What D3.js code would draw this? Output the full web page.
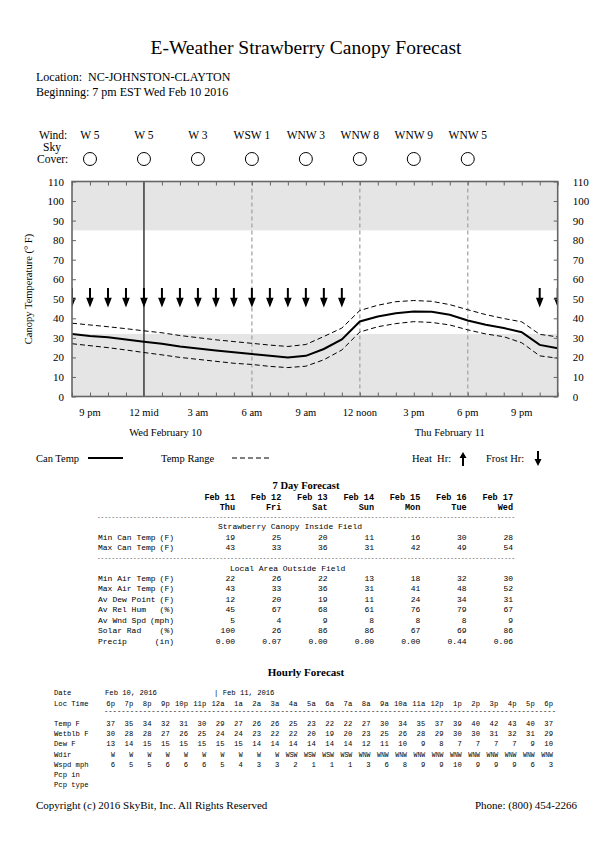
<!DOCTYPE html>
<html>
<head>
<meta charset="utf-8">
<script src="https://cdn.jsdelivr.net/npm/d3@7"></script>
<style>
  body { margin: 0; background: #fff; }
  text { fill: #000; }
  .serif { font-family: "Liberation Serif", "Times New Roman", serif; }
  .mono { font-family: "Liberation Mono", "Courier New", monospace; }
</style>
</head>
<body>
<svg id="chart" width="612" height="864"></svg>
<script>
// ---- data ----
const startHour = new Date(2016, 1, 10, 20);   // 8 pm Wed Feb 10
const endHour = new Date(2016, 1, 11, 23);     // 11 pm Thu Feb 11

// hourly canopy temperature, 8 pm Feb 10 .. 11 pm Feb 11
const canTemp = [32, 31, 30.3, 29.2, 28, 27, 25.6, 24.5, 23.5, 22.6, 21.7, 20.8, 20, 20.8,
                 24.3, 29.2, 38.4, 40.9, 42.6, 43.5, 43.3, 41.8, 38.9, 36.7, 35, 32.9, 26.4, 24.7];
const rangeHigh = [37.5, 36.6, 35.7, 34.7, 33.6, 32.6, 31.2, 30.1, 29, 28.1, 27.2, 26.3, 25.6, 26.6,
                   30.7, 35, 44, 46.7, 48.5, 49.1, 48.7, 47, 44.4, 41.9, 39.9, 38.2, 31.8, 30.5];
const rangeLow = [27, 26, 25, 23.8, 22.5, 21.3, 20, 19, 18, 17, 16.4, 15.4, 14.8, 15.5,
                  18.8, 23.8, 33, 35.7, 37.3, 38.3, 37.9, 36.6, 34.1, 32, 30.6, 27.5, 20.8, 19.6];
const frostHourIdx = [0, 1, 2, 3, 4, 5, 6, 7, 8, 9, 10, 11, 12, 13, 14, 15, 26, 27];

const yTicks = [0, 10, 20, 30, 40, 50, 60, 70, 80, 90, 100, 110];
const bands = [[85, 110], [0, 32]];
const xLabels = ["9 pm", "12 mid", "3 am", "6 am", "9 am", "12 noon", "3 pm", "6 pm", "9 pm"];
const xLabelHours = [1, 4, 7, 10, 13, 16, 19, 22, 25];
const guideHours = [4, 10, 16, 22];              // midnight, 6 am, noon, 6 pm
const dayLabels = ["Wed February 10", "Thu February 11"];
const dayLabelHours = [5.2, 21];

const windHours = [1, 4, 7, 10, 13, 16, 19, 22];
const windText = ["W 5", "W 5", "W 3", "WSW 1", "WNW 3", "WNW 8", "WNW 9", "WNW 5"];

const dayDates = ["Feb 11", "Feb 12", "Feb 13", "Feb 14", "Feb 15", "Feb 16", "Feb 17"];
const dayNames = ["Thu", "Fri", "Sat", "Sun", "Mon", "Tue", "Wed"];
const canopyRows = [
  ["Min Can Temp", "(F)", [19, 25, 20, 11, 16, 30, 28]],
  ["Max Can Temp", "(F)", [43, 33, 36, 31, 42, 49, 54]]
];
const areaRows = [
  ["Min Air Temp", "(F)", [22, 26, 22, 13, 18, 32, 30]],
  ["Max Air Temp", "(F)", [43, 33, 36, 31, 41, 48, 52]],
  ["Av Dew Point", "(F)", [12, 20, 19, 11, 24, 34, 31]],
  ["Av Rel Hum", "(%)", [45, 67, 68, 61, 76, 79, 67]],
  ["Av Wnd Spd", "(mph)", [5, 4, 9, 8, 8, 8, 9]],
  ["Solar Rad", "(%)", [100, 26, 86, 86, 67, 69, 86]],
  ["Precip", "(in)", ["0.00", "0.07", "0.00", "0.00", "0.00", "0.44", "0.06"]]
];

const hourCols = ["6p", "7p", "8p", "9p", "10p", "11p", "12a", "1a", "2a", "3a", "4a", "5a", "6a",
                  "7a", "8a", "9a", "10a", "11a", "12p", "1p", "2p", "3p", "4p", "5p", "6p"];
const hourlyTemp = [37, 35, 34, 32, 31, 30, 29, 27, 26, 26, 25, 23, 22, 22, 27, 30, 34, 35, 37, 39, 40, 42, 43, 40, 37];
const hourlyWetblb = [30, 28, 28, 27, 26, 25, 24, 24, 23, 22, 22, 20, 19, 20, 23, 25, 26, 28, 29, 30, 30, 31, 32, 31, 29];
const hourlyDew = [13, 14, 15, 15, 15, 15, 15, 15, 14, 14, 14, 14, 14, 14, 12, 11, 10, 9, 8, 7, 7, 7, 7, 9, 10];
const hourlyWdir = ["W", "W", "W", "W", "W", "W", "W", "W", "W", "W", "WSW", "WSW", "WSW", "WSW", "WNW", "WNW",
                    "WNW", "WNW", "WNW", "WNW", "WNW", "WNW", "WNW", "WNW", "WNW"];
const hourlyWspd = [6, 5, 5, 6, 6, 6, 5, 4, 3, 3, 2, 1, 1, 1, 3, 6, 8, 9, 9, 10, 9, 9, 9, 6, 3];

// ---- layout ----
const svg = d3.select("#chart");
const plot = { left: 72, right: 557.7, top: 181.5, bottom: 396.5 };
const hourAt = i => d3.timeHour.offset(startHour, i);
const x = d3.scaleTime().domain([startHour, endHour]).range([plot.left, plot.right]);
const xh = i => x(new Date(+startHour + i * 3600e3));
const y = d3.scaleLinear().domain([0, 110]).range([plot.bottom, plot.top]);

// header
svg.append("text").attr("class", "serif").attr("x", 306).attr("y", 54)
  .attr("text-anchor", "middle").attr("font-size", 19.5).text("E-Weather Strawberry Canopy Forecast");
svg.append("text").attr("class", "serif").attr("x", 36).attr("y", 81).attr("font-size", 12)
  .attr("xml:space", "preserve").text("Location:  NC-JOHNSTON-CLAYTON");
svg.append("text").attr("class", "serif").attr("x", 36).attr("y", 96).attr("font-size", 12)
  .text("Beginning: 7 pm EST Wed Feb 10 2016");

// wind / sky cover
svg.append("text").attr("class", "serif").attr("x", 39).attr("y", 139).attr("font-size", 11.5).text("Wind:");
svg.append("text").attr("class", "serif").attr("x", 43).attr("y", 151).attr("font-size", 11.5).text("Sky");
svg.append("text").attr("class", "serif").attr("x", 37).attr("y", 163).attr("font-size", 11.5).text("Cover:");
svg.selectAll(".wind").data(windHours).join("text").attr("class", "serif wind")
  .attr("x", d => xh(d)).attr("y", 139).attr("text-anchor", "middle").attr("font-size", 11.5)
  .text((d, i) => windText[i]);
svg.selectAll(".sky").data(windHours).join("circle").attr("class", "sky")
  .attr("cx", d => xh(d)).attr("cy", 159).attr("r", 6.5)
  .attr("fill", "none").attr("stroke", "#000").attr("stroke-width", 1);

// plot background bands
svg.append("clipPath").attr("id", "clip").append("rect")
  .attr("x", plot.left).attr("y", plot.top)
  .attr("width", plot.right - plot.left).attr("height", plot.bottom - plot.top);
const g = svg.append("g").attr("clip-path", "url(#clip)");
g.selectAll(".band").data(bands).join("rect")
  .attr("x", plot.left).attr("width", plot.right - plot.left)
  .attr("y", d => y(d[1])).attr("height", d => y(d[0]) - y(d[1]))
  .attr("fill", "#e5e5e5");

// vertical guides
g.selectAll(".guide").data(guideHours).join("line")
  .attr("x1", d => xh(d)).attr("x2", d => xh(d)).attr("y1", plot.top).attr("y2", plot.bottom)
  .attr("stroke", (d, i) => i === 0 ? "#444" : "#aaa")
  .attr("stroke-width", (d, i) => i === 0 ? 1.6 : 1.4)
  .attr("stroke-dasharray", (d, i) => i === 0 ? null : "4,3");

// frost arrows
const arrow = (cx) => {
  const top = y(55.5), neck = y(50.5), tip = y(45.5);
  return `M${cx - 1},${top}L${cx + 1},${top}L${cx + 1},${neck}L${cx + 3.8},${neck}L${cx},${tip}L${cx - 3.8},${neck}L${cx - 1},${neck}Z`;
};
g.selectAll(".frost").data(frostHourIdx).join("path")
  .attr("d", d => arrow(xh(d))).attr("fill", "#000");

// lines
const line = d3.line().x((d, i) => x(hourAt(i))).y(d => y(d));
g.append("path").datum(rangeHigh).attr("d", line)
  .attr("fill", "none").attr("stroke", "#000").attr("stroke-width", 1).attr("stroke-dasharray", "5,3");
g.append("path").datum(rangeLow).attr("d", line)
  .attr("fill", "none").attr("stroke", "#000").attr("stroke-width", 1).attr("stroke-dasharray", "5,3");
g.append("path").datum(canTemp).attr("d", line)
  .attr("fill", "none").attr("stroke", "#000").attr("stroke-width", 2);

// axes (ticks pointing inward)
const hourTicks = d3.timeHour.range(startHour, d3.timeHour.offset(endHour, 1));
svg.append("g").attr("transform", `translate(0,${plot.top})`)
  .call(d3.axisTop(x).tickValues(hourTicks).tickSize(-4).tickFormat(""))
  .call(a => a.select(".domain").remove())
  .selectAll("line").attr("stroke", "#666");
svg.append("g").attr("transform", `translate(0,${plot.bottom})`)
  .call(d3.axisBottom(x).tickValues(hourTicks).tickSize(-4).tickFormat(""))
  .call(a => a.select(".domain").remove())
  .selectAll("line").attr("stroke", "#666");
const yl = svg.append("g").attr("transform", `translate(${plot.left},0)`)
  .call(d3.axisLeft(y).tickValues(yTicks).tickSize(-4).tickPadding(8));
const yr = svg.append("g").attr("transform", `translate(${plot.right},0)`)
  .call(d3.axisRight(y).tickValues(yTicks).tickSize(-4).tickPadding(15));
[yl, yr].forEach(a => {
  a.select(".domain").remove();
  a.selectAll("line").attr("stroke", "#666");
  a.selectAll("text").attr("font-family", "Liberation Serif, serif").attr("font-size", 11).attr("fill", "#000");
});
svg.append("rect").attr("x", plot.left).attr("y", plot.top)
  .attr("width", plot.right - plot.left).attr("height", plot.bottom - plot.top)
  .attr("fill", "none").attr("stroke", "#666").attr("stroke-width", 1.6);

svg.append("text").attr("class", "serif").attr("font-size", 10.5)
  .attr("transform", `translate(32,${(plot.top + plot.bottom) / 2}) rotate(-90)`)
  .attr("text-anchor", "middle").text("Canopy Temperature (\u00b0 F)");

svg.selectAll(".xl").data(xLabelHours).join("text").attr("class", "serif xl")
  .attr("x", d => xh(d)).attr("y", 416).attr("text-anchor", "middle").attr("font-size", 10.5)
  .text((d, i) => xLabels[i]);
svg.selectAll(".dl").data(dayLabelHours).join("text").attr("class", "serif dl")
  .attr("x", d => xh(d)).attr("y", 436).attr("text-anchor", "middle").attr("font-size", 10.5)
  .text((d, i) => dayLabels[i]);

// legend
const lgY = 458;
svg.append("text").attr("class", "serif").attr("x", 36).attr("y", lgY + 4).attr("font-size", 10.5).text("Can Temp");
svg.append("line").attr("x1", 88).attr("x2", 123).attr("y1", lgY).attr("y2", lgY).attr("stroke", "#000").attr("stroke-width", 2);
svg.append("text").attr("class", "serif").attr("x", 161).attr("y", lgY + 4).attr("font-size", 10.5).text("Temp Range");
svg.append("line").attr("x1", 232).attr("x2", 271).attr("y1", lgY).attr("y2", lgY).attr("stroke", "#000").attr("stroke-dasharray", "5,3");
svg.append("text").attr("class", "serif").attr("x", 412).attr("y", lgY + 4).attr("font-size", 10.5)
  .attr("xml:space", "preserve").text("Heat  Hr:");
svg.append("path").attr("d", "M463,452L466.5,458L464,458L464,466L462,466L462,458L459.5,458Z").attr("fill", "#000");
svg.append("text").attr("class", "serif").attr("x", 486).attr("y", lgY + 4).attr("font-size", 10.5).text("Frost Hr:");
svg.append("path").attr("d", "M537,451L539,451L539,459L541.5,459L538,466L534.5,459L537,459Z").attr("fill", "#000");

// ---- 7 day forecast table ----
svg.append("text").attr("class", "serif").attr("x", 306).attr("y", 489).attr("text-anchor", "middle")
  .attr("font-size", 10.5).attr("font-weight", "bold").text("7 Day Forecast");
const colX = d3.scaleLinear().domain([0, 6]).range([235, 513]);
svg.selectAll(".dd").data(dayDates).join("text").attr("class", "mono dd")
  .attr("x", (d, i) => colX(i)).attr("y", 499.5).attr("text-anchor", "end")
  .attr("font-size", 8.5).attr("font-weight", "bold").text(d => d);
svg.selectAll(".dn").data(dayNames).join("text").attr("class", "mono dn")
  .attr("x", (d, i) => colX(i)).attr("y", 510.3).attr("text-anchor", "end")
  .attr("font-size", 8.5).attr("font-weight", "bold").text(d => d);
const dashes = (x0, x1, yy, fs) => svg.append("text").attr("class", "mono").attr("x", x0).attr("y", yy)
  .attr("font-size", fs).attr("textLength", x1 - x0).attr("lengthAdjust", "spacing")
  .text("-".repeat(Math.round((x1 - x0) / (fs * 0.6))));
dashes(97, 515, 518.5, 6);
svg.append("text").attr("class", "mono").attr("x", 218).attr("y", 529).attr("font-size", 8).text("Strawberry Canopy Inside Field");
dashes(97, 515, 559.5, 6);
svg.append("text").attr("class", "mono").attr("x", 230).attr("y", 570.5).attr("font-size", 8).text("Local Area Outside Field");

const drawRows = (rows, y0) => {
  rows.forEach((r, k) => {
    const yy = y0 + k * 10.45;
    svg.append("text").attr("class", "mono").attr("x", 98).attr("y", yy).attr("font-size", 8).text(r[0]);
    svg.append("text").attr("class", "mono").attr("x", 174).attr("y", yy).attr("font-size", 8)
      .attr("text-anchor", "end").text(r[1]);
    svg.selectAll(null).data(r[2]).join("text").attr("class", "mono")
      .attr("x", (d, i) => colX(i)).attr("y", yy).attr("font-size", 8).attr("text-anchor", "end").text(d => d);
  });
};
drawRows(canopyRows, 539.5);
drawRows(areaRows, 581);

// ---- hourly forecast table ----
svg.append("text").attr("class", "serif").attr("x", 306).attr("y", 676).attr("text-anchor", "middle")
  .attr("font-size", 11).attr("font-weight", "bold").text("Hourly Forecast");
const hx = d3.scaleLinear().domain([0, hourCols.length - 1]).range([115, 553]);
const hfs = 7.2;
const hLabel = (t, yy) => svg.append("text").attr("class", "mono").attr("x", 54).attr("y", yy).attr("font-size", hfs).text(t);
hLabel("Date", 695);
svg.append("text").attr("class", "mono").attr("x", 105).attr("y", 695).attr("font-size", hfs).text("Feb 10, 2016");
svg.append("text").attr("class", "mono").attr("x", 214).attr("y", 695).attr("font-size", hfs).text("| Feb 11, 2016");
hLabel("Loc Time", 705.5);
svg.selectAll(".hc").data(hourCols).join("text").attr("class", "mono hc")
  .attr("x", (d, i) => hx(i)).attr("y", 705.5).attr("font-size", hfs).attr("text-anchor", "end").text(d => d);
dashes(104, 556, 712.5, hfs);
const hourlyRows = [["Temp F", hourlyTemp], ["Wetblb F", hourlyWetblb], ["Dew F", hourlyDew],
                    ["Wdir", hourlyWdir], ["Wspd mph", hourlyWspd], ["Pcp in", []], ["Pcp type", []]];
hourlyRows.forEach((r, k) => {
  const yy = 726 + k * 10.2;
  hLabel(r[0], yy);
  svg.selectAll(null).data(r[1]).join("text").attr("class", "mono")
    .attr("x", (d, i) => hx(i)).attr("y", yy).attr("text-anchor", "end")
    .attr("font-size", r[0] === "Wdir" ? 6.5 : hfs).text(d => d);
});

// footer
svg.append("text").attr("class", "serif").attr("x", 36).attr("y", 809).attr("font-size", 11)
  .text("Copyright (c) 2016 SkyBit, Inc. All Rights Reserved");
svg.append("text").attr("class", "serif").attr("x", 577).attr("y", 809).attr("font-size", 11)
  .attr("text-anchor", "end").text("Phone: (800) 454-2266");
</script>
</body>
</html>
